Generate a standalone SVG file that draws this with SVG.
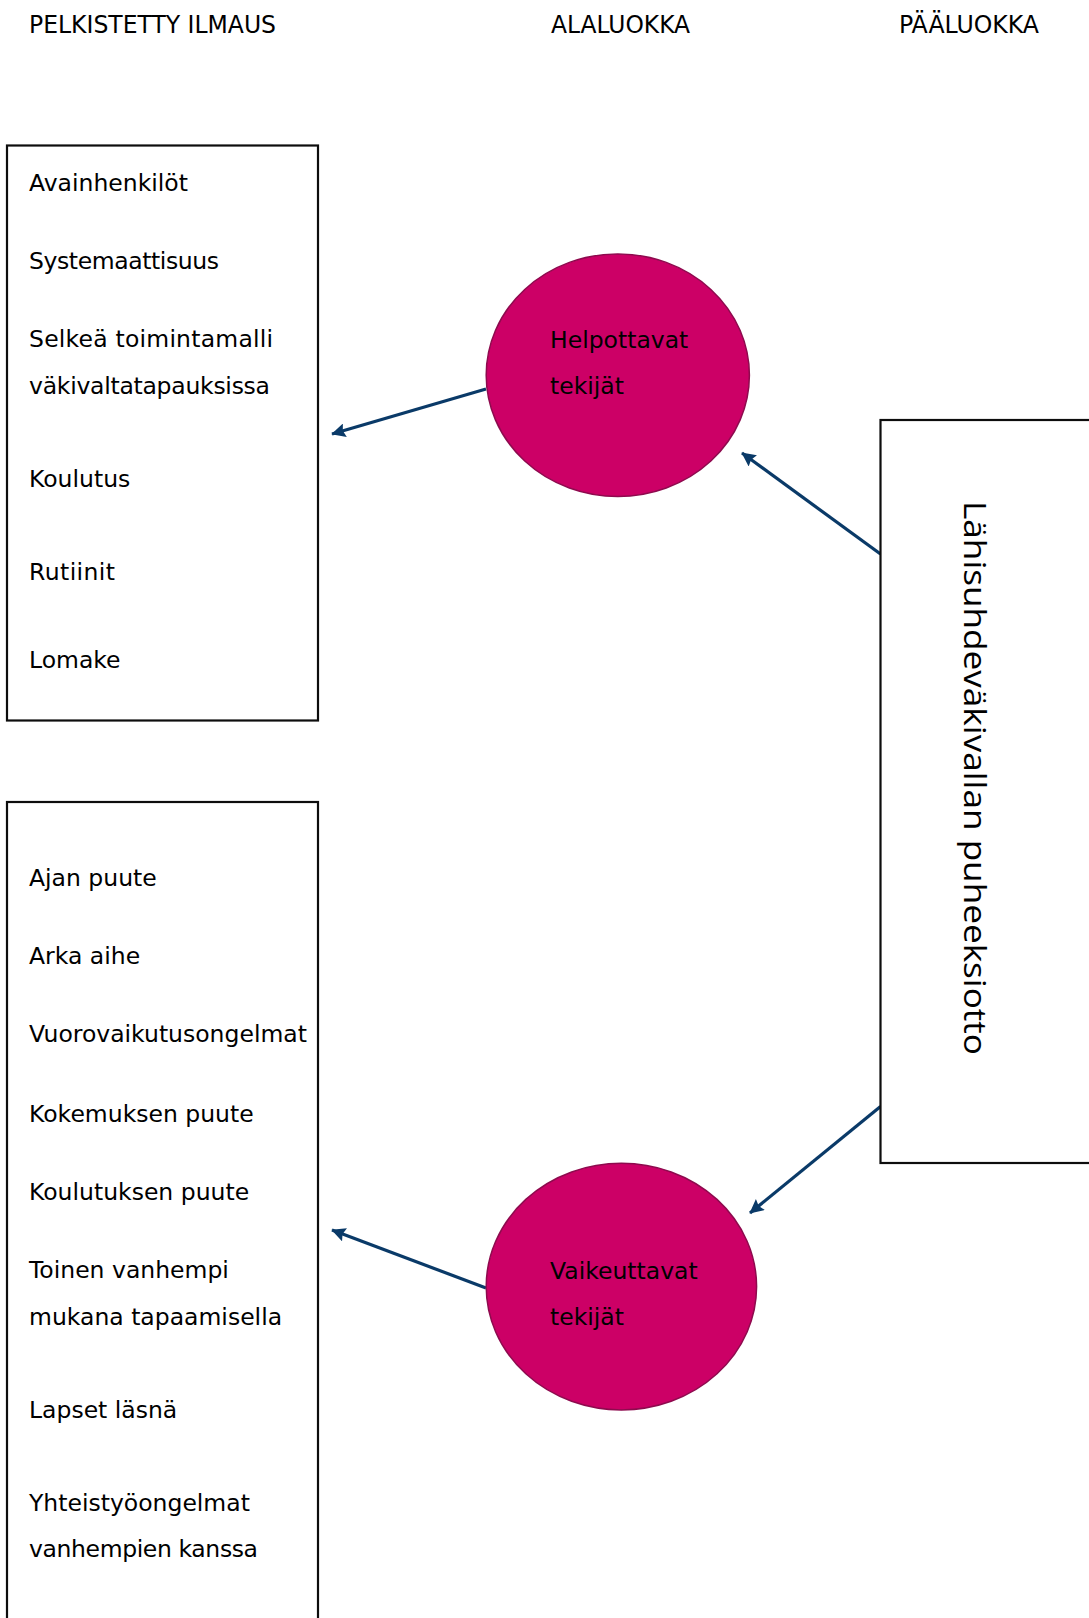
<svg xmlns="http://www.w3.org/2000/svg" width="1089" height="1618" viewBox="0 0 1089 1618">
<style>
.hdr{font-family:"Liberation Sans Narrow","DejaVu Sans Condensed","Liberation Sans",sans-serif;font-size:24px;fill:#000}
.item{font-family:"DejaVu Sans","Liberation Sans",sans-serif;font-size:23.5px;fill:#000}
.box{fill:#fff;stroke:#0d0d0d;stroke-width:2.2}
.circ{fill:#CC0066;stroke:#8E0A4E;stroke-width:1.5}
.main{font-family:"Open Sans","Noto Sans",sans-serif;font-size:31px;fill:#000}
.conn{stroke:#0A3A68;stroke-width:3.2;fill:none}
</style>
<defs>
<marker id="arr" viewBox="0 0 10 10" refX="9.5" refY="5" markerWidth="5" markerHeight="4.4" orient="auto" markerUnits="strokeWidth">
<path d="M0,0 L10,5 L0,10 L1.5,5 z" fill="#0A3A68"/>
</marker>
</defs>
<rect width="1089" height="1618" fill="#fff"/>
<g id="headers">
<text class="hdr" x="29" y="33" textLength="247" lengthAdjust="spacingAndGlyphs">PELKISTETTY ILMAUS</text>
<text class="hdr" x="551" y="33" textLength="139" lengthAdjust="spacingAndGlyphs">ALALUOKKA</text>
<text class="hdr" x="899" y="33" textLength="140" lengthAdjust="spacingAndGlyphs">PÄÄLUOKKA</text>
</g>
<g id="connectors">
<line class="conn" x1="486" y1="389" x2="332" y2="434" marker-end="url(#arr)"/>
<line class="conn" x1="880.5" y1="554" x2="742" y2="453" marker-end="url(#arr)"/>
<line class="conn" x1="880.5" y1="1106.5" x2="750" y2="1213" marker-end="url(#arr)"/>
<line class="conn" x1="486" y1="1288" x2="332" y2="1230" marker-end="url(#arr)"/>
</g>
<g id="box-helpottavat-items">
<rect class="box" x="7" y="145.5" width="311" height="575"/>
<text class="item" x="29" y="190.7">Avainhenkilöt</text>
<text class="item" x="29" y="269" textLength="190">Systemaattisuus</text>
<text class="item" x="29" y="346.5" textLength="244">Selkeä toimintamalli</text>
<text class="item" x="29" y="394" textLength="241">väkivaltatapauksissa</text>
<text class="item" x="29" y="487">Koulutus</text>
<text class="item" x="29" y="580" textLength="86">Rutiinit</text>
<text class="item" x="29" y="667.5">Lomake</text>
</g>
<g id="box-vaikeuttavat-items">
<rect class="box" x="7" y="802" width="311" height="830"/>
<text class="item" x="29" y="886.4">Ajan puute</text>
<text class="item" x="29" y="963.8">Arka aihe</text>
<text class="item" x="29" y="1042.2">Vuorovaikutusongelmat</text>
<text class="item" x="29" y="1121.7">Kokemuksen puute</text>
<text class="item" x="29" y="1200.1">Koulutuksen puute</text>
<text class="item" x="29" y="1277.6">Toinen vanhempi</text>
<text class="item" x="29" y="1325">mukana tapaamisella</text>
<text class="item" x="29" y="1418">Lapset läsnä</text>
<text class="item" x="29" y="1511">Yhteistyöongelmat</text>
<text class="item" x="29" y="1557.3" textLength="229">vanhempien kanssa</text>
</g>
<g id="node-helpottavat">
<ellipse class="circ" cx="617.8" cy="375.2" rx="131.6" ry="121.3"/>
<text class="item" x="550" y="347.6">Helpottavat</text>
<text class="item" x="550" y="394">tekijät</text>
</g>
<g id="node-vaikeuttavat">
<ellipse class="circ" cx="621.4" cy="1286.6" rx="135.2" ry="123.3"/>
<text class="item" x="550" y="1278.6">Vaikeuttavat</text>
<text class="item" x="550" y="1325">tekijät</text>
</g>
<g id="node-paaluokka">
<rect class="box" x="880.5" y="420" width="215" height="743"/>
<text class="main" transform="translate(964,501) rotate(90)" textLength="554" lengthAdjust="spacingAndGlyphs">Lähisuhdeväkivallan puheeksiotto</text>
</g>
</svg>
